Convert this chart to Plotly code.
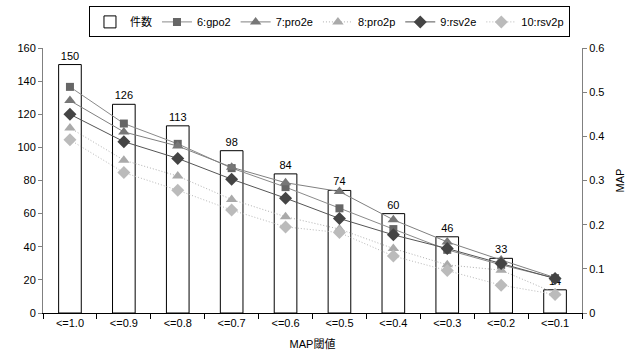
import plotly.graph_objects as go

categories = ["<=1.0", "<=0.9", "<=0.8", "<=0.7", "<=0.6", "<=0.5", "<=0.4", "<=0.3", "<=0.2", "<=0.1"]
counts = [150, 126, 113, 98, 84, 74, 60, 46, 33, 14]
gpo2 = [0.512, 0.429, 0.383, 0.328, 0.285, 0.237, 0.190, 0.143, 0.109, 0.079]
pro2e = [0.481, 0.410, 0.378, 0.330, 0.295, 0.275, 0.211, 0.161, 0.120, 0.080]
pro2p = [0.419, 0.346, 0.310, 0.257, 0.218, 0.190, 0.146, 0.109, 0.097, 0.045]
rsv2e = [0.450, 0.388, 0.350, 0.303, 0.260, 0.214, 0.177, 0.146, 0.112, 0.078]
rsv2p = [0.392, 0.318, 0.278, 0.233, 0.195, 0.182, 0.129, 0.096, 0.063, 0.042]

FONT = "Liberation Sans, Arial, Noto Sans CJK JP, sans-serif"

fig = go.Figure()
fig.add_trace(go.Bar(
    x=categories, y=counts, name="件数",
    marker=dict(color="white", line=dict(color="black", width=1)),
    width=0.42, text=counts, textposition="outside",
    textfont=dict(size=11, color="black"), cliponaxis=False,
))

series = [
    ("6:gpo2", gpo2, "#8a8a8a", "solid", "square", "#666666", 8),
    ("7:pro2e", pro2e, "#808080", "solid", "triangle-up", "#777777", 10),
    ("8:pro2p", pro2p, "#b0b0b0", "1px,2px", "triangle-up", "#aaaaaa", 10),
    ("9:rsv2e", rsv2e, "#555555", "solid", "diamond", "#444444", 10),
    ("10:rsv2p", rsv2p, "#b8b8b8", "1px,2px", "diamond", "#bbbbbb", 10),
]
for name, vals, lc, dash, sym, mc, ms in series:
    fig.add_trace(go.Scatter(
        x=categories, y=vals, name=name, yaxis="y2", mode="lines+markers",
        line=dict(color=lc, width=1, dash=dash),
        marker=dict(symbol=sym, color=mc, size=ms),
    ))

fig.update_layout(
    width=638, height=356,
    margin=dict(l=43, r=56, t=48, b=43, autoexpand=False),
    plot_bgcolor="white", paper_bgcolor="white",
    font=dict(family=FONT, size=11, color="black"),
    showlegend=True,
    legend=dict(
        orientation="h", x=0.5315, xanchor="center", y=1.157, yanchor="top",
        bordercolor="black", borderwidth=1, font=dict(size=11),
        traceorder="normal", itemwidth=30, tracegroupgap=0,
    ),
    xaxis=dict(
        type="category", range=[-0.5, 9.5], showline=True, linecolor="black", linewidth=1,
        ticks="outside", tickson="boundaries", ticklen=5, tickcolor="black",
        title=dict(text="MAP閾値", font=dict(size=11), standoff=12),
        showgrid=False, tickfont=dict(size=11), automargin=False,
    ),
    yaxis=dict(
        range=[0, 160], dtick=20, showline=True, linecolor="#808080", linewidth=1,
        ticks="outside", ticklen=4, tickcolor="#808080", showgrid=False,
        zeroline=False, tickfont=dict(size=11), automargin=False,
    ),
    yaxis2=dict(
        range=[0, 0.6], dtick=0.1, overlaying="y", side="right",
        showline=True, linecolor="#808080", linewidth=1,
        ticks="outside", ticklen=4, tickcolor="#808080", showgrid=False,
        zeroline=False, tickfont=dict(size=11), automargin=False,
        title=dict(text="MAP", font=dict(size=11), standoff=12),
    ),
)

fig.write_html("out.html")
